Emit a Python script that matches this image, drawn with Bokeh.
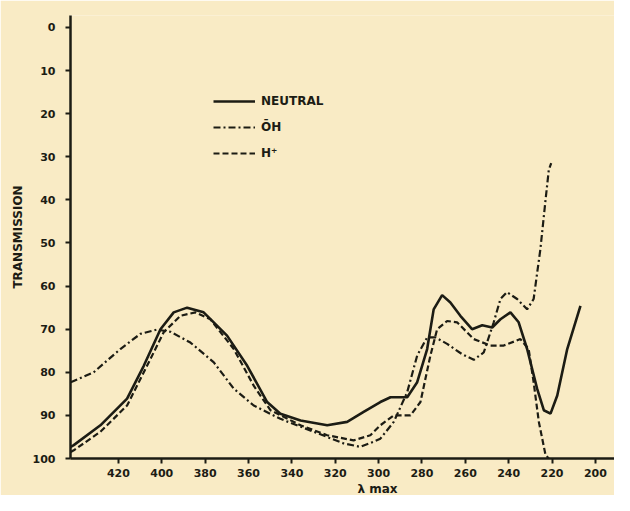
from bokeh.plotting import figure
from bokeh.models import Range1d, FixedTicker, Legend, LegendItem, Title
from bokeh.embed import file_html
from bokeh.resources import INLINE

# Neutral (solid)
neutral_x = [442, 440.6, 428.3, 416, 408.3, 400.6, 394.5, 388.3, 380.7, 369.9, 360.6, 351.4,
             345.3, 336, 323.7, 314.5, 306.9, 299.2, 294.5, 286.8, 282.2, 277.6, 274.6, 270.7,
             266.9, 262.3, 256.9, 252.2, 247.6, 243.8, 239.2, 235.4, 231.5, 226.9, 223.8,
             220.7, 217.6, 213, 206.9]
neutral_y = [97.3, 96.9, 92.3, 86.1, 78.5, 70, 66.1, 65, 66.1, 71.5, 78.5, 86.9,
             89.6, 91.2, 92.3, 91.5, 89.2, 86.9, 85.8, 85.8, 82.3, 74.6, 65.4, 62.1,
             63.8, 66.9, 70, 69.1, 69.6, 67.7, 66.1, 68.4, 74.6, 83.8, 88.8,
             89.6, 85.4, 74.6, 64.6]

# OH- (dash-dot)
oh_x = [442, 431.4, 419.1, 409.9, 402.2, 396, 386.8, 376, 366.8, 357.6, 345.3, 329.9,
        316.1, 308.4, 302.3, 299.2, 293, 286.8, 282.2, 277.6, 273.8, 268.4, 261.5, 256.1,
        251.5, 246.9, 243.8, 240.8, 236.1, 231.5, 228.5, 225.4, 223, 221.5, 220.4]
oh_y = [82.3, 80, 74.6, 71.1, 70.1, 70.6, 73.1, 77.7, 83.8, 87.7, 90.8, 93.8,
        96.5, 97.3, 96.1, 95.4, 91.5, 84.6, 76.1, 71.9, 71.9, 73.4, 75.8, 77.1,
        75.4, 68.4, 63, 61.4, 63, 65.4, 63, 51.5, 40, 33, 31.5]

# H+ (dashed)
h_x = [442, 440.6, 428.3, 416, 406.8, 399.1, 391.4, 384.5, 377.6, 366.8, 357.6, 349.9,
       336, 323.7, 311.5, 303.8, 299.2, 293, 285.3, 280.7, 276.1, 273, 268.4, 263.8,
       256.1, 248.4, 242.3, 234.6, 230.8, 228.5, 226.1, 223, 221.5]
h_y = [98.5, 98.1, 93.8, 87.7, 78.5, 70.7, 66.9, 66.1, 67.7, 74.6, 83.1, 88.8,
       92.3, 94.6, 95.8, 94.6, 92.3, 90, 90, 86.9, 76.1, 70, 68.1, 68.4,
       72.3, 73.8, 73.8, 72.3, 74.6, 82.3, 91.5, 99.2, 100]

x_ticks = [420, 400, 380, 360, 340, 320, 300, 280, 260, 240, 220, 200]
y_ticks = [0, 10, 20, 30, 40, 50, 60, 70, 80, 90, 100]

labels = ["NEUTRAL", "\u014cH", "H\u207a"]

BG = "#f9ebc5"
INK = "#1c1c14"
FONT = "DejaVu Sans"

p = figure(width=614, height=495, output_backend="svg", toolbar_location=None,
           x_range=Range1d(442.1, 191.2), y_range=Range1d(100, -2.77),
           min_border_left=70, min_border_top=15, min_border_bottom=35, min_border_right=0)
p.background_fill_color = BG
p.border_fill_color = BG
p.outline_line_color = None
p.grid.visible = False

for ax in (p.xaxis[0], p.yaxis[0]):
    ax.axis_line_color = INK
    ax.axis_line_width = 2.5
    ax.major_tick_line_color = INK
    ax.major_tick_line_width = 2
    ax.major_tick_out = 5
    ax.major_tick_in = 0
    ax.minor_tick_line_color = None
    ax.major_label_text_font = FONT
    ax.major_label_text_font_style = "bold"
    ax.major_label_text_font_size = "11px"
    ax.major_label_text_color = INK
    ax.axis_label_text_font = FONT
    ax.axis_label_text_font_style = "bold"
    ax.axis_label_text_color = INK

p.xaxis.ticker = FixedTicker(ticks=x_ticks)
p.yaxis.ticker = FixedTicker(ticks=y_ticks)
p.xaxis.major_label_standoff = 5
p.yaxis.major_label_standoff = 10
p.yaxis.axis_label = "TRANSMISSION"
p.yaxis.axis_label_text_font_size = "12px"
p.yaxis.axis_label_standoff = 5

r1 = p.line(neutral_x, neutral_y, line_color=INK, line_width=2.6)
r2 = p.line(oh_x, oh_y, line_color=INK, line_width=2.2, line_dash="7 3 2 3")
r3 = p.line(h_x, h_y, line_color=INK, line_width=2.2, line_dash="6 3")

legend = Legend(items=[LegendItem(label=labels[0], renderers=[r1]),
                       LegendItem(label=labels[1], renderers=[r2]),
                       LegendItem(label=labels[2], renderers=[r3])],
                location=(143, 295), orientation="vertical",
                glyph_width=42, glyph_height=20, label_height=20, spacing=6,
                label_standoff=6, padding=0, margin=0,
                background_fill_alpha=0, border_line_color=None,
                label_text_font=FONT, label_text_font_style="bold",
                label_text_font_size="12px", label_text_color=INK)
p.add_layout(legend, "center")

xtitle = Title(text="\u03bb max", align="left", offset=287, standoff=0,
               text_font=FONT, text_font_style="bold", text_font_size="12px",
               text_color=INK)
p.add_layout(xtitle, "below")

open("out.html", "w").write(file_html(p, INLINE))
